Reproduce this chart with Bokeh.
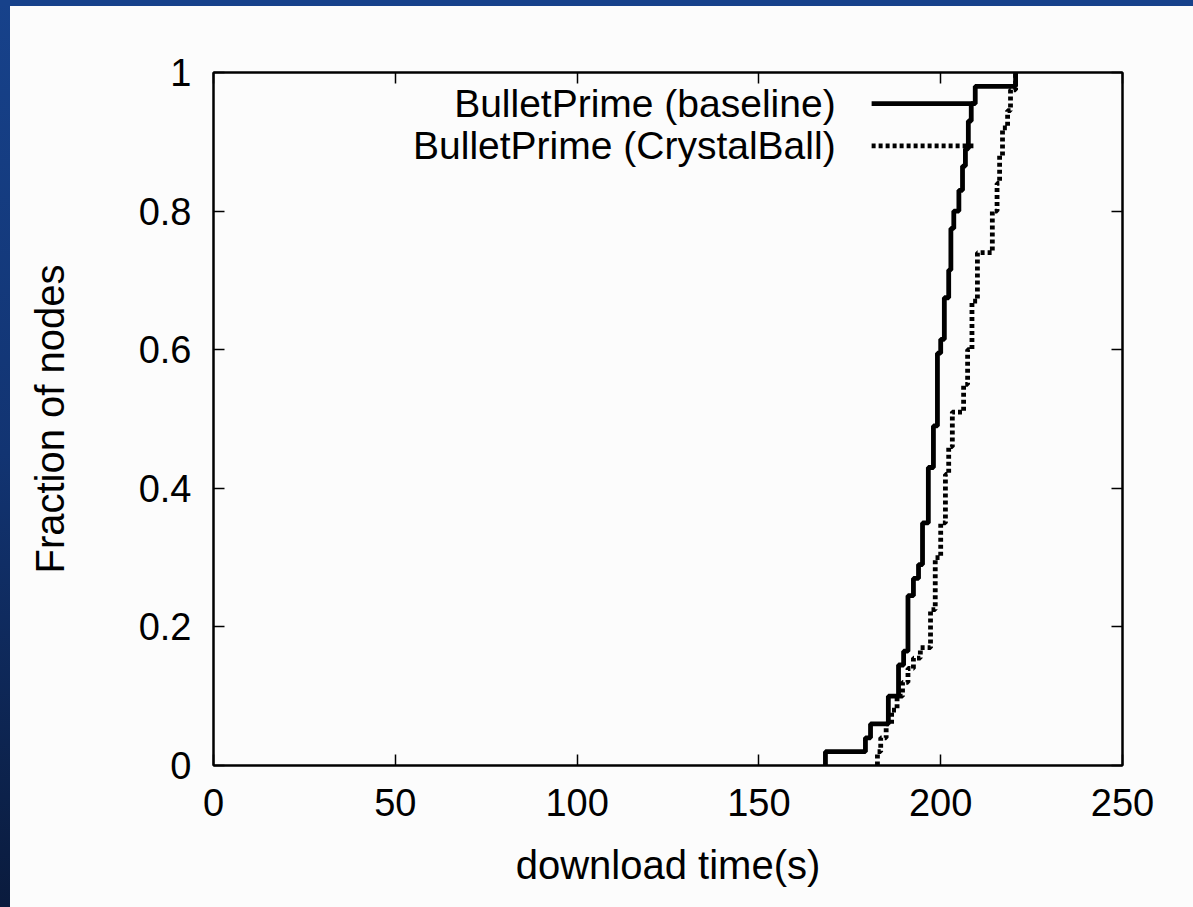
from bokeh.plotting import figure
from bokeh.models import LinearAxis, Range1d, FixedTicker, Label, Arrow, CustomJSTickFormatter
from bokeh.embed import file_html
from bokeh.resources import INLINE

# ---- data ----
baseline_time = [168.3, 168.3, 179.3, 180.7, 185.6, 188.4, 189.8, 191.0, 192.5, 193.9,
                 195.0, 196.6, 198.0, 199.1, 200.0, 201.0, 202.2, 202.8, 203.6, 205.0,
                 206.0, 206.8, 207.6, 208.4, 209.5, 220.6]
baseline_frac = [0.0, 0.02, 0.04, 0.06, 0.10, 0.145, 0.165, 0.245, 0.27, 0.29,
                 0.35, 0.43, 0.49, 0.595, 0.615, 0.675, 0.715, 0.775, 0.80, 0.83,
                 0.865, 0.89, 0.93, 0.955, 0.98, 1.0]

crystal_time = [182.6, 182.6, 183.5, 185.0, 186.5, 188.0, 189.5, 191.0, 192.5, 194.4,
                197.2, 198.5, 200.0, 201.3, 202.2, 203.2, 206.3, 207.4, 208.6, 210.1,
                214.2, 215.5, 216.2, 217.0, 218.4, 219.2, 220.6]
crystal_frac = [0.0, 0.02, 0.04, 0.06, 0.08, 0.10, 0.12, 0.14, 0.155, 0.17,
                0.225, 0.30, 0.35, 0.42, 0.46, 0.51, 0.55, 0.60, 0.67, 0.74,
                0.80, 0.84, 0.88, 0.92, 0.945, 0.975, 1.0]

series_names = ["BulletPrime (baseline)", "BulletPrime (CrystalBall)"]
x_ticks = [0, 50, 100, 150, 200, 250]
y_ticks = [0, 0.2, 0.4, 0.6, 0.8, 1]
x_title = "download time(s)"
y_title = "Fraction of nodes"

FONT = "Liberation Sans"
BG = "#fcfcfc"

# slide background: blue strips at the top and left edges
page_styles = {
    "background": ("linear-gradient(#17428b, #17428b) 0px 0px / 100% 6px no-repeat, "
                   "linear-gradient(to bottom, #17428b 0%, #123472 50%, #0a1b3d 100%) 0px 0px / 10px 100% no-repeat, "
                   + BG),
}

p = figure(frame_width=909, frame_height=693,
           min_border_left=213, min_border_right=71,
           min_border_top=72, min_border_bottom=142,
           x_range=Range1d(0, 250), y_range=Range1d(0, 1),
           output_backend="svg", toolbar_location=None,
           background_fill_color=BG, border_fill_color=None,
           styles=page_styles)

p.xgrid.visible = False
p.ygrid.visible = False
p.outline_line_color = "black"
p.outline_line_width = 2

def style_axis(ax, ticks, show_labels):
    ax.ticker = FixedTicker(ticks=ticks)
    ax.axis_line_color = "black"
    ax.axis_line_width = 2
    ax.major_tick_in = 11
    ax.major_tick_out = 0
    ax.major_tick_line_width = 1.5
    ax.major_tick_line_color = "black"
    ax.minor_tick_line_color = None
    ax.major_label_text_font = FONT
    ax.major_label_text_font_size = "38px"
    ax.major_label_text_color = "black" if show_labels else None
    ax.axis_label_text_font = FONT
    ax.axis_label_text_font_size = "40px"
    ax.axis_label_text_font_style = "normal"
    ax.axis_label_text_color = "black"

xa = p.xaxis[0]
ya = p.yaxis[0]
style_axis(xa, x_ticks, True)
style_axis(ya, y_ticks, True)
xa.axis_label = x_title
ya.axis_label = y_title
xa.major_label_standoff = 23
ya.major_label_standoff = 22
xa.axis_label_standoff = 24
ya.axis_label_standoff = 64
ya.formatter = CustomJSTickFormatter(code="return tick == 0 ? '0' : (tick == 1 ? '1' : tick.toFixed(1));")

top_ax = LinearAxis()
right_ax = LinearAxis()
style_axis(top_ax, x_ticks, False)
style_axis(right_ax, y_ticks, False)
top_ax.major_label_text_font_size = "0px"
right_ax.major_label_text_font_size = "0px"
p.add_layout(top_ax, "above")
p.add_layout(right_ax, "right")

# curves
p.step(baseline_time, baseline_frac, mode="after", line_color="black", line_width=4.8)
p.step(crystal_time, crystal_frac, mode="after", line_color="black", line_width=4.8,
       line_dash="4 3")

# legend (gnuplot style: text right-aligned, sample to the right)
leg_y = [0.955, 0.894]
leg_dash = ["solid", "4 3"]
for name, yy, dash in zip(series_names, leg_y, leg_dash):
    p.add_layout(Label(x=171.1, y=yy, text=name, text_align="right", text_baseline="middle",
                       text_font=FONT, text_font_size="39px", text_color="black"))
    p.add_layout(Arrow(x_start=181.0, y_start=yy, x_end=209.0, y_end=yy, end=None,
                       line_color="black", line_width=4.8, line_dash=dash))

open("out.html", "w").write(file_html(p, INLINE))
